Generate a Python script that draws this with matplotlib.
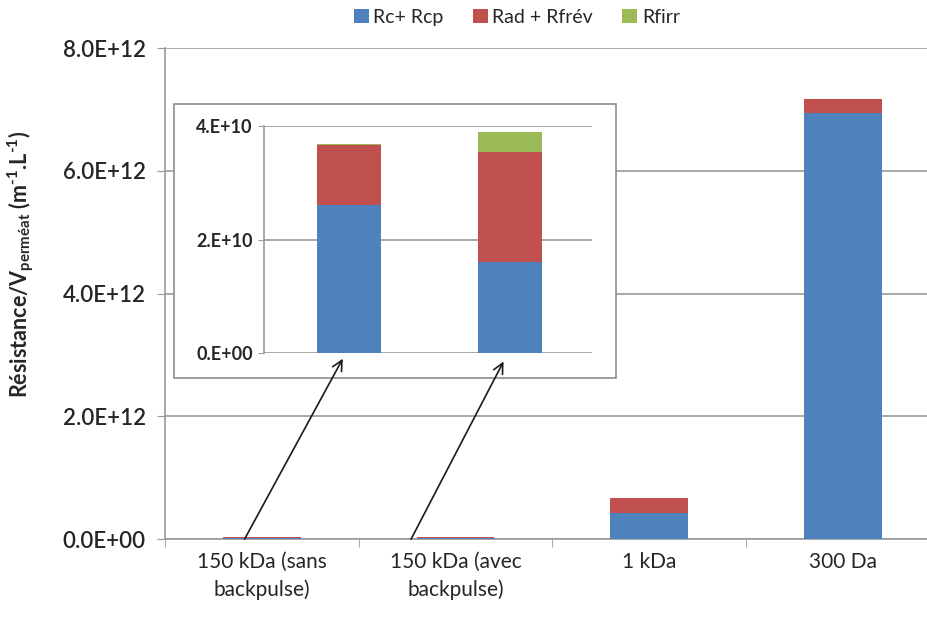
import matplotlib.pyplot as plt
from matplotlib.patches import Rectangle
import numpy as np

plt.rcParams['font.family'] = ['Lato', 'DejaVu Sans']

# data
categories = ["150 kDa (sans\nbackpulse)", "150 kDa (avec\nbackpulse)", "1 kDa", "300 Da"]
rc_rcp = [2.6e10, 1.6e10, 0.42e12, 6.95e12]
rad_rfrev = [1.06e10, 1.95e10, 0.25e12, 0.22e12]
rfirr = [0.03e10, 0.35e10, 0.0, 0.0]
series_names = ["Rc+ Rcp", "Rad + Rfrév", "Rfirr"]
colors = ["#4F81BD", "#C0504D", "#9BBB59"]
main_ticks = [0, 2e12, 4e12, 6e12, 8e12]
main_ticklabels = ["0.0E+00", "2.0E+12", "4.0E+12", "6.0E+12", "8.0E+12"]
inset_ticks = [0, 2e10, 4e10]
inset_ticklabels = ["0.E+00", "2.E+10", "4.E+10"]

grid_c = "#9a9a9a"
text_c = "#262626"

fig = plt.figure(figsize=(9.28, 6.19), dpi=100)
ax = fig.add_axes([0.178, 0.129, 0.822, 0.793])

x = np.arange(len(categories))
w = 0.4
bottom = np.zeros(len(categories))
for vals, name, c in zip([rc_rcp, rad_rfrev, rfirr], series_names, colors):
    ax.bar(x, vals, w, bottom=bottom, color=c, label=name, zorder=3)
    bottom += np.array(vals)

ax.set_xlim(-0.5, 3.44)
ax.set_ylim(0, 8e12)
ax.set_yticks(main_ticks)
ax.set_yticklabels(main_ticklabels, fontsize=16, color=text_c, fontweight='semibold')
ax.set_xticks(x)
ax.set_xticklabels(categories, fontsize=15, color=text_c, linespacing=1.45)
ax.set_xticks([-0.5, 0.5, 1.5, 2.5], minor=True)
ax.tick_params(axis='x', which='major', length=0, pad=9)
ax.tick_params(axis='x', which='minor', length=6, color=grid_c)
ax.tick_params(axis='y', length=6, color=grid_c, pad=8)
ax.grid(axis='y', color=grid_c, lw=1.2, zorder=0)
for s in ['top', 'right']:
    ax.spines[s].set_visible(False)
for s in ['left', 'bottom']:
    ax.spines[s].set_color(grid_c)
    ax.spines[s].set_linewidth(1.2)
ax.set_ylabel("Résistance/V$_{\\mathregular{perméat}}$ (m$^{\\mathregular{\u20101}}$.L$^{\\mathregular{\u20101}}$)",
              fontsize=15.5, fontweight='bold', color=text_c)
ax.yaxis.set_label_coords(-0.168, 0.56)

fig.legend(loc='center', bbox_to_anchor=(0.557, 0.972), ncol=3, frameon=False,
           fontsize=14, handlelength=0.75, handleheight=0.75, handletextpad=0.25,
           columnspacing=1.5, labelcolor=text_c)

# inset frame
box = Rectangle((0.1875, 0.389), 0.476, 0.443, transform=fig.transFigure,
                facecolor='white', edgecolor='#8c8c8c', lw=1.2, zorder=1)
fig.patches.append(box)

axi = fig.add_axes([0.2845, 0.4297, 0.3534, 0.3667])
axi.set_zorder(2)
xi = np.arange(2)
bottom = np.zeros(2)
for vals, c in zip([rc_rcp, rad_rfrev, rfirr], colors):
    axi.bar(xi, vals[:2], w, bottom=bottom, color=c, zorder=3)
    bottom += np.array(vals[:2])
axi.set_xlim(-0.53, 1.51)
axi.set_ylim(0, 4e10)
axi.set_yticks(inset_ticks)
axi.set_yticklabels(inset_ticklabels, fontsize=13, color=text_c, fontweight='bold')
axi.set_xticks([])
axi.tick_params(axis='y', length=4, color=grid_c, pad=4)
axi.grid(axis='y', color=grid_c, lw=1.2, zorder=0)
for s in ['top', 'right', 'bottom']:
    axi.spines[s].set_visible(False)
axi.spines['left'].set_color(grid_c)
axi.spines['left'].set_linewidth(1.2)

# arrows from main bars to inset bars
arrow_from = [(-0.09, 0), (0.77, 0)]
arrow_to = [(-0.04, -0.1e10), (0.96, -0.15e10)]
for (x0, y0), (x1, y1) in zip(arrow_from, arrow_to):
    axi.annotate("", xy=(x1, y1), xycoords='data', xytext=(x0, y0),
                 textcoords=ax.transData, annotation_clip=False,
                 arrowprops=dict(arrowstyle='->', color='#1a1a1a', lw=1.2,
                                 shrinkA=0, shrinkB=0, mutation_scale=18))

fig.savefig("out.png", dpi=100)
